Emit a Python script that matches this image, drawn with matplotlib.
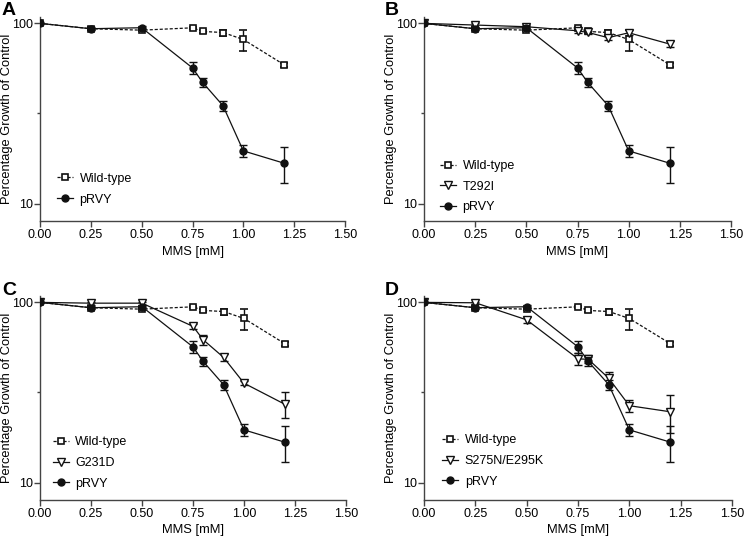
import matplotlib
matplotlib.use("Agg")
import matplotlib.pyplot as plt
from matplotlib.ticker import FixedLocator, NullFormatter

plt.rcParams['font.family'] = ['Liberation Sans', 'DejaVu Sans']

mms = [0.0, 0.25, 0.5, 0.75, 0.8, 0.9, 1.0, 1.2]

wt = [100, 93.4, 91.7, 94.5, 90.2, 89.0, 81.4, 59.0]
wt_err = [0.5, 1.5, 1.5, 1.5, 2.0, 3.4, 11.0, 1.5]

prvy = [100, 93.4, 94.6, 56.6, 47.0, 34.9, 19.6, 16.75]
prvy_err = [0.5, 1.5, 1.5, 4.5, 2.8, 2.3, 1.4, 3.75]

t292i = [100, 97.9, 95.8, 91.0, 89.1, 83.3, 88.7, 76.8]
t292i_err = [0.5, 2.0, 2.0, 2.0, 2.0, 2.0, 3.0, 3.0]

g231d = [100, 99.0, 99.0, 73.6, 62.0, 49.5, 35.6, 27.2]
g231d_err = [0.5, 2.0, 2.0, 2.0, 4.0, 2.5, 1.0, 4.5]

s275n = [100, 99.5, 80.0, 48.6, 48.3, 37.9, 26.7, 24.7]
s275n_err = [0.5, 1.5, 3.0, 3.5, 2.5, 3.0, 2.0, 5.8]

x_ticks = [0.0, 0.25, 0.5, 0.75, 1.0, 1.25, 1.5]
x_ticklabels = ["0.00", "0.25", "0.50", "0.75", "1.00", "1.25", "1.50"]

panels = [
    ("A", None, None, None),
    ("B", "T292I", t292i, t292i_err),
    ("C", "G231D", g231d, g231d_err),
    ("D", "S275N/E295K", s275n, s275n_err),
]

W, H = 745, 536
fig = plt.figure(figsize=(W / 100, H / 100), dpi=100)

# pixel boxes: left, right, top, bottom
boxes = [
    (40, 345, 17, 221),
    (424, 731, 17, 221),
    (40, 346, 296, 500),
    (424, 732, 296, 500),
]
letter_pos = [(2, 2), (385, 2), (2, 282), (385, 282)]
legend_anchor = [(0.056, 0.156), (0.052, 0.168), (0.042, 0.181), (0.059, 0.191)]

axis_col = "#444444"
line_col = "#111111"
fs = 9

for (letter, mname, mvals, merr), (l, r, t, b), (lx, ly), anc in zip(
        panels, boxes, letter_pos, legend_anchor):
    ax = fig.add_axes([l / W, 1 - b / H, (r - l) / W, (b - t) / H])
    ax.set_yscale("log")
    ax.set_xlim(0, 1.5)
    ax.set_ylim(8, 108.5)

    handles, labels = [], []
    c = ax.errorbar(mms, wt, yerr=wt_err, color=line_col, ls=(0, (2.5, 1.5)), lw=0.9,
                    marker="s", ms=4.5, mfc="white", mec=line_col, mew=1.2,
                    capsize=3, elinewidth=1.0, capthick=1.0, zorder=3)
    handles.append(c[0]); labels.append("Wild-type")
    if mname is not None:
        c = ax.errorbar(mms, mvals, yerr=merr, color=line_col, ls="-", lw=0.9,
                        marker="v", ms=5.5, mfc="white", mec=line_col, mew=1.0,
                        capsize=3, elinewidth=1.0, capthick=1.0, zorder=4)
        handles.append(c[0]); labels.append(mname)
    c = ax.errorbar(mms, prvy, yerr=prvy_err, color=line_col, ls="-", lw=0.9,
                    marker="o", ms=5, mfc=line_col, mec=line_col,
                    capsize=3, elinewidth=1.0, capthick=1.0, zorder=5)
    handles.append(c[0]); labels.append("pRVY")

    for s in ["top", "right"]:
        ax.spines[s].set_visible(False)
    for s in ["left", "bottom"]:
        ax.spines[s].set_color(axis_col)
        ax.spines[s].set_linewidth(1.0)

    ax.set_xticks(x_ticks)
    ax.set_xticklabels(x_ticklabels)
    ax.yaxis.set_major_locator(FixedLocator([10, 100]))
    ax.set_yticklabels(["10", "100"])
    ax.yaxis.set_minor_locator(FixedLocator([31.62]))
    ax.yaxis.set_minor_formatter(NullFormatter())
    ax.tick_params(axis="both", which="major", direction="out", length=4, width=1.0,
                   color=axis_col, labelsize=fs, pad=2)
    ax.tick_params(axis="y", which="minor", direction="out", length=2, width=1.0,
                   color=axis_col)
    ax.tick_params(axis="y", which="major", pad=1)

    ax.set_xlabel("MMS [mM]", fontsize=9.3, labelpad=3)
    ax.set_ylabel("Percentage Growth of Control", fontsize=9.3)
    ax.yaxis.set_label_coords(-0.088, 0.5)

    fig.text(lx / W, 1 - ly / H, letter, fontsize=14, fontweight="bold",
             ha="left", va="top")

    ax.legend(handles, labels, loc="center left", bbox_to_anchor=anc, frameon=False,
              fontsize=fs, handlelength=1.3, handletextpad=0.5,
              labelspacing=0.7, borderaxespad=0, borderpad=0)

fig.savefig("out.png", dpi=100)
